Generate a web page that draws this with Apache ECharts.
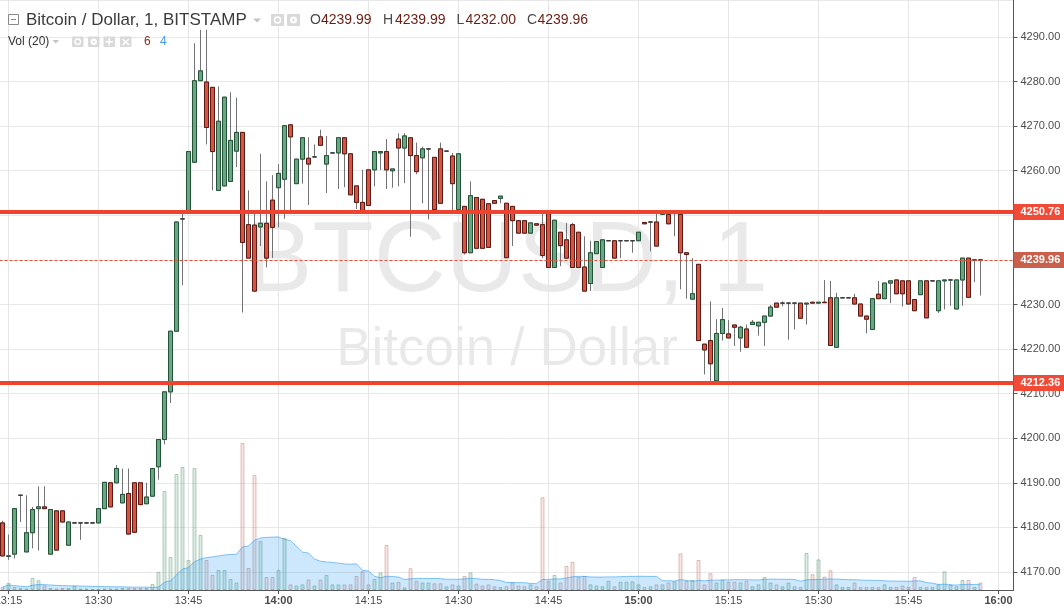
<!DOCTYPE html>
<html><head><meta charset="utf-8">
<script src="https://cdn.jsdelivr.net/npm/echarts@6/dist/echarts.min.js"></script>
<style>html,body{margin:0;padding:0;background:#fff;overflow:hidden}#c{width:1064px;height:609px}</style>
</head><body><div id="c"></div>
<script>
// ---- data (1-minute candles, BTCUSD Bitstamp, from 13:14) ----
const firstMinute = '13:14';
const emptySlotsRight = 5;
const opens = [
 4181.0,4173.5,4174.0,4187.2,4174.5,4178.8,4184.2,4184.6,4174.0,4183.7,
 4183.7,4176.0,4181.0,4181.0,4181.0,4181.0,4181.0,4184.2,4190.0,4190.0,
 4185.5,4187.6,4190.0,4190.0,4185.3,4187.0,4193.6,4199.7,4210.4,4224.0,
 4249.2,4251.0,4261.9,4280.2,4279.9,4278.7,4255.6,4256.6,4257.6,4264.4,
 4268.6,4247.9,4247.8,4247.4,4248.2,4253.4,4256.2,4258.1,4270.3,4257.1,
 4262.6,4262.8,4263.1,4267.6,4261.5,4264.0,4264.0,4267.4,4263.8,4256.6,
 4252.9,4260.2,4260.2,4264.0,4264.3,4260.0,4267.1,4265.1,4267.4,4263.4,
 4262.9,4264.9,4263.0,4264.9,4264.4,4263.3,4251.3,4252.0,4241.6,4254.0,
 4253.6,4252.6,4253.3,4253.8,4252.7,4252.0,4248.8,4248.8,4246.0,4248.1,
 4247.9,4250.4,4238.3,4246.2,4244.5,4247.9,4246.2,4238.4,4234.7,4241.4,
 4238.3,4244.3,4244.3,4244.3,4244.3,4244.3,4244.3,4248.4,4248.5,4248.5,
 4250.2,4250.2,4250.4,4250.2,4241.6,4231.2,4239.0,4221.1,4221.9,4212.9,
 4223.5,4223.4,4225.4,4222.5,4224.5,4225.5,4225.2,4226.0,4227.4,4230.3,
 4230.3,4230.3,4230.3,4230.3,4230.1,4230.5,4230.3,4230.5,4231.5,4220.4,
 4231.5,4231.5,4231.5,4230.1,4227.4,4224.4,4232.3,4231.3,4234.8,4235.5,
 4235.3,4235.3,4231.1,4232.2,4235.3,4235.3,4228.6,4235.3,4235.5,4229.0,
 4235.5,4240.4,4240.0,4239.99
];
const highs = [
 4181.5,4178.4,4184.2,4187.2,4187.2,4184.6,4189.2,4189.2,4184.0,4183.7,
 4183.7,4181.2,4181.0,4181.0,4181.0,4181.0,4184.2,4190.1,4190.0,4194.0,
 4193.2,4193.2,4190.0,4190.0,4190.0,4193.2,4199.7,4210.4,4224.0,4248.5,
 4251.0,4264.3,4288.6,4291.6,4291.6,4278.7,4278.9,4276.5,4277.6,4276.4,
 4268.6,4255.6,4250.6,4263.8,4257.6,4259.0,4261.5,4270.3,4270.3,4262.6,
 4267.4,4267.5,4265.9,4269.2,4267.8,4264.0,4267.4,4267.4,4263.8,4256.6,
 4260.2,4260.2,4264.3,4264.3,4267.1,4260.4,4268.4,4268.4,4267.4,4266.3,
 4265.4,4264.9,4263.0,4266.3,4264.4,4264.0,4263.8,4252.0,4257.6,4254.0,
 4253.6,4252.6,4253.3,4254.3,4252.7,4252.0,4248.8,4248.8,4248.3,4248.1,
 4250.6,4250.4,4248.9,4246.2,4248.3,4248.3,4246.2,4245.3,4244.3,4244.1,
 4244.5,4244.3,4244.3,4244.3,4244.3,4244.3,4246.2,4248.4,4248.5,4250.4,
 4250.4,4250.2,4250.4,4250.2,4241.6,4240.4,4239.0,4221.1,4230.7,4226.7,
 4229.2,4226.5,4225.4,4225.2,4225.5,4226.5,4226.0,4227.4,4229.9,4230.3,
 4230.7,4230.3,4230.3,4230.3,4230.3,4230.5,4230.5,4235.5,4235.3,4232.6,
 4231.5,4231.5,4232.4,4230.1,4227.4,4231.3,4235.3,4234.8,4235.3,4235.5,
 4235.3,4235.3,4231.1,4235.3,4235.3,4235.3,4235.3,4235.5,4235.5,4235.5,
 4240.4,4240.4,4240.0,4239.99
];
const lows = [
 4173.6,4172.7,4173.0,4181.2,4174.5,4175.3,4174.8,4184.2,4174.0,4174.9,
 4181.2,4176.0,4181.0,4177.2,4181.0,4181.0,4181.0,4184.2,4184.6,4190.0,
 4185.5,4178.5,4178.9,4185.1,4185.3,4187.0,4190.7,4198.6,4207.9,4224.0,
 4234.3,4251.0,4261.9,4280.2,4265.9,4255.6,4255.6,4256.6,4257.6,4260.8,
 4228.2,4240.4,4233.0,4243.1,4238.3,4240.4,4247.3,4249.2,4250.6,4257.1,
 4257.1,4252.3,4263.1,4265.7,4255.0,4264.0,4255.9,4256.3,4254.6,4251.4,
 4250.6,4252.2,4256.5,4260.2,4255.9,4256.2,4256.5,4257.2,4245.2,4259.2,
 4252.7,4249.1,4251.3,4252.7,4264.4,4251.2,4251.3,4241.2,4241.6,4242.6,
 4242.6,4242.8,4252.7,4252.7,4240.5,4243.1,4246.0,4246.0,4246.0,4247.8,
 4240.4,4238.3,4238.3,4238.6,4240.4,4238.3,4238.3,4233.0,4233.0,4241.4,
 4238.3,4244.3,4240.4,4240.4,4244.3,4241.6,4244.3,4248.1,4241.9,4243.1,
 4250.2,4248.1,4245.3,4233.4,4231.3,4231.2,4221.9,4214.3,4212.3,4212.9,
 4221.9,4222.5,4220.7,4219.4,4220.4,4225.5,4223.0,4220.7,4227.4,4229.4,
 4229.6,4222.1,4224.4,4226.9,4225.5,4230.3,4230.3,4230.5,4220.8,4220.4,
 4231.5,4231.5,4230.1,4227.4,4223.5,4224.4,4231.3,4231.3,4230.3,4232.4,
 4229.5,4230.1,4228.6,4232.2,4227.0,4235.3,4228.1,4228.9,4229.7,4229.0,
 4229.7,4231.6,4235.0,4232.00
];
const closes = [
 4173.6,4173.6,4184.2,4187.2,4178.8,4184.0,4184.6,4184.2,4184.0,4174.9,
 4181.2,4181.2,4181.0,4181.0,4181.0,4181.0,4184.2,4190.1,4184.6,4193.2,
 4187.4,4178.5,4178.9,4185.1,4186.8,4193.2,4199.7,4210.4,4224.0,4248.5,
 4249.2,4264.3,4280.2,4282.4,4269.7,4264.3,4271.1,4276.5,4266.8,4268.6,
 4243.9,4240.4,4233.0,4248.2,4240.4,4247.3,4259.4,4270.1,4267.6,4262.6,
 4267.4,4261.5,4263.1,4265.7,4263.4,4264.0,4267.4,4263.8,4254.6,4252.9,
 4250.6,4252.2,4264.3,4264.3,4260.2,4260.4,4265.1,4267.8,4263.4,4259.8,
 4264.9,4264.9,4251.3,4252.7,4264.4,4257.1,4263.8,4241.6,4254.4,4242.6,
 4242.6,4242.8,4252.7,4254.3,4240.5,4248.8,4246.0,4246.0,4248.3,4247.8,
 4241.0,4238.3,4248.9,4243.2,4240.4,4238.3,4238.3,4233.0,4241.6,4244.1,
 4244.5,4244.3,4240.4,4244.3,4244.3,4244.3,4246.2,4248.1,4248.5,4243.1,
 4250.4,4248.1,4250.4,4241.6,4241.2,4232.4,4221.9,4219.8,4216.7,4223.5,
 4226.6,4222.5,4224.9,4224.9,4220.4,4226.0,4226.0,4227.4,4229.4,4229.4,
 4230.3,4230.3,4230.3,4226.9,4230.3,4230.3,4230.5,4230.4,4220.8,4231.5,
 4231.5,4231.5,4230.1,4227.4,4226.7,4231.3,4231.3,4234.8,4235.3,4232.4,
 4232.4,4230.1,4228.6,4235.3,4227.0,4235.3,4235.3,4235.5,4235.5,4235.5,
 4240.4,4231.6,4240.0,4239.96
];
const volumes = [
 3,7,3,2,1.5,12,9.7,4.7,2,1.5,
 2,2,4,1.5,1.5,1,1,1.5,1.5,1.5,
 2,2,2,2,2,6,18,99,33,116,
 123,30,122,55,30,15,20,20,11,7.5,
 147,22,115,49,13,13,20,52,5.6,4.5,
 5.6,10.5,4.5,10.5,15,5.6,5.6,5.6,5.6,14,
 18.7,5.6,11,17.6,45,7.5,8,2.6,21.7,9.3,
 7.5,7.5,6.7,6.7,3.7,5.6,4.5,14,17.6,6.4,
 4.5,5.6,3.7,3,3.7,7.5,4.5,3.7,5.6,3.7,
 92.7,9.3,15,7.5,24,28,13,14,5.6,4.5,
 3.7,9.3,3.7,8.2,8.2,8.6,5.6,3,3.7,5.6,
 5.6,7.5,8.6,36.6,9.3,10,30,5.6,16.8,7.5,
 10,8.2,8.2,7.5,9.3,3.7,5.6,13,7.5,5.6,
 3.7,7.5,3.7,3,37,15.7,30.6,13.5,19.8,5.6,
 3,3,7.5,3,3,3,3,5.6,3,3,
 4.5,3,13,3,3,3,5.6,18.7,5.6,3.7,
 10,10,3,7.5
];
const levels = [4250.76, 4212.36];
const volMaLength = 20;
const volumeAxisMax = 590;

// ---- derived ----
const FONT = '"Liberation Sans", Arial, sans-serif';
const n = opens.length;
const last = n - 1;
const [h0, m0] = firstMinute.split(':').map(Number);
const categories = [];
for (let k = 0; k < n + emptySlotsRight; k++) {
  const t = h0 * 60 + m0 + k;
  categories.push(String(Math.floor(t / 60)).padStart(2, '0') + ':' + String(t % 60).padStart(2, '0'));
}
const isGridTime = v => /:(00|15|30|45)$/.test(v);
const wickData = opens.map((o, k) => [o, closes[k], lows[k], highs[k]]);
const bodyData = opens.map((o, k) => [o, closes[k], Math.min(o, closes[k]), Math.max(o, closes[k])]);
const volUp = { color: 'rgba(107,165,131,0.22)', borderColor: 'rgba(107,165,131,0.5)' };
const volDn = { color: 'rgba(205,120,110,0.18)', borderColor: 'rgba(190,120,115,0.45)' };
const volData = volumes.map((v, k) => ({ value: v, itemStyle: closes[k] >= opens[k] ? volUp : volDn }));
const volMA = volumes.map((v, k) => {
  const s = volumes.slice(Math.max(0, k - volMaLength + 1), k + 1);
  return s.reduce((a, b) => a + b, 0) / s.length;
});

const priceLabel = bg => ({
  show: true, position: 'end', distance: 0,
  formatter: p => Number(p.value).toFixed(2),
  color: '#fff', fontWeight: 'bold', fontSize: 11, fontFamily: FONT,
  backgroundColor: bg, padding: [3, 8, 2, 7]
});

const chart = echarts.init(document.getElementById('c'), null, { renderer: 'canvas' });

const hdr = [];
const txt = (x, y, text, fill, size, extra) => hdr.push(Object.assign({
  type: 'text', x, y, z: 100,
  style: { text, fill, font: size + 'px ' + FONT, verticalAlign: 'middle', align: 'left' }
}, extra || {}));
// title line
hdr.push({ type: 'rect', z: 100, shape: { x: 8.5, y: 14.5, width: 10, height: 10 }, style: { fill: '#fff', stroke: '#8a8a8a', lineWidth: 1 } });
hdr.push({ type: 'line', z: 100, shape: { x1: 11, y1: 19.5, x2: 16, y2: 19.5 }, style: { stroke: '#8a8a8a', lineWidth: 1 } });
txt(26, 20.5, 'Bitcoin / Dollar, 1, BITSTAMP', '#3b3b3b', 17);
hdr.push({ type: 'polygon', z: 100, shape: { points: [[253, 18.5], [261, 18.5], [257, 22.5]] }, style: { fill: '#c4c4c4' } });
[[271, 14, 13, 12], [287, 14, 13, 12]].forEach(r => hdr.push({ type: 'rect', z: 100, shape: { x: r[0], y: r[1], width: r[2], height: r[3], r: 1 }, style: { fill: '#d9d9d9' } }));
hdr.push({ type: 'circle', z: 101, shape: { cx: 277.5, cy: 20, r: 3 }, style: { fill: 'none', stroke: '#fff', lineWidth: 1.5 } });
hdr.push({ type: 'circle', z: 101, shape: { cx: 293.5, cy: 20, r: 3.5 }, style: { fill: '#fff' } });
hdr.push({ type: 'circle', z: 102, shape: { cx: 293.5, cy: 20, r: 1.2 }, style: { fill: '#d9d9d9' } });
const valCol = '#6b1d12', letCol = '#4a4a4a';
txt(310, 20.5, 'O', letCol, 14); txt(321, 20.5, opens[last].toFixed(2), valCol, 14);
txt(383, 20.5, 'H', letCol, 14); txt(395, 20.5, highs[last].toFixed(2), valCol, 14);
txt(456.5, 20.5, 'L', letCol, 14); txt(465.5, 20.5, lows[last].toFixed(2), valCol, 14);
txt(527, 20.5, 'C', letCol, 14); txt(537.5, 20.5, closes[last].toFixed(2), valCol, 14);
// volume line
txt(8, 41.5, 'Vol (20)', '#333', 12);
hdr.push({ type: 'polygon', z: 100, shape: { points: [[52.5, 40], [59, 40], [55.75, 43.5]] }, style: { fill: '#c4c4c4' } });
[[72, 36.5], [88, 36.5], [103.5, 36.5], [120, 36.5]].forEach(r => hdr.push({ type: 'rect', z: 100, shape: { x: r[0], y: r[1], width: 11.5, height: 10.5, r: 1 }, style: { fill: '#d9d9d9' } }));
hdr.push({ type: 'circle', z: 101, shape: { cx: 77.75, cy: 41.75, r: 2.7 }, style: { fill: 'none', stroke: '#fff', lineWidth: 1.4 } });
hdr.push({ type: 'circle', z: 101, shape: { cx: 93.75, cy: 41.75, r: 3.2 }, style: { fill: '#fff' } });
hdr.push({ type: 'circle', z: 102, shape: { cx: 93.75, cy: 41.75, r: 1.1 }, style: { fill: '#d9d9d9' } });
hdr.push({ type: 'line', z: 101, shape: { x1: 105.5, y1: 41.75, x2: 113, y2: 41.75 }, style: { stroke: '#fff', lineWidth: 1.6 } });
hdr.push({ type: 'line', z: 101, shape: { x1: 109.25, y1: 38, x2: 109.25, y2: 45.5 }, style: { stroke: '#fff', lineWidth: 1.6 } });
hdr.push({ type: 'line', z: 101, shape: { x1: 122.5, y1: 39, x2: 129, y2: 45 }, style: { stroke: '#fff', lineWidth: 1.6 } });
hdr.push({ type: 'line', z: 101, shape: { x1: 129, y1: 39, x2: 122.5, y2: 45 }, style: { stroke: '#fff', lineWidth: 1.6 } });
txt(144, 41.5, '6', '#8e2b1b', 12);
txt(160, 41.5, '4', '#3d9be9', 12);
// watermark
const wm = [
  { type: 'text', x: 507, y: 263, z: 0, silent: true, style: { text: 'BTCUSD, 1', fill: 'rgba(0,0,0,0.085)', font: '100px ' + FONT, align: 'center', verticalAlign: 'middle' } },
  { type: 'text', x: 507, y: 350, z: 0, silent: true, style: { text: 'Bitcoin / Dollar', fill: 'rgba(0,0,0,0.085)', font: '53px ' + FONT, align: 'center', verticalAlign: 'middle' } }
];

chart.setOption({
  animation: false,
  backgroundColor: '#ffffff',
  graphic: wm.concat(hdr),
  grid: { left: -0.5, right: 50.5, top: 0, bottom: 19, containLabel: false, outerBoundsMode: 'none' },
  xAxis: {
    type: 'category', data: categories, boundaryGap: true,
    axisLine: { show: true, lineStyle: { color: '#555', width: 1 } },
    axisTick: { show: true, alignWithLabel: true, length: 4, interval: (i, v) => isGridTime(v), lineStyle: { color: '#555' } },
    axisLabel: {
      interval: (i, v) => isGridTime(v), margin: 5, color: '#4a4a4a', fontSize: 11, fontFamily: FONT,
      formatter: v => /:00$/.test(v) ? '{b|' + v + '}' : v,
      rich: { b: { fontWeight: 'bold', color: '#4a4a4a', fontSize: 11, fontFamily: FONT } }
    },
    splitLine: { show: false }
  },
  yAxis: [
    {
      type: 'value', position: 'right', scale: true,
      min: 4165.95, max: 4298.3, splitNumber: 13, minInterval: 10, maxInterval: 10,
      axisLine: { show: true, lineStyle: { color: '#555', width: 1 } },
      axisTick: { show: true, length: 4, lineStyle: { color: '#555' } },
      axisLabel: { showMinLabel: false, showMaxLabel: false, margin: 7, color: '#4d4d4d', fontSize: 11, fontFamily: FONT, formatter: v => v.toFixed(2) },
      splitLine: { show: true, lineStyle: { color: '#e8e8e8', width: 1 } }
    },
    { type: 'value', min: 0, max: volumeAxisMax, show: false }
  ],
  series: [
    {
      name: 'Volume', type: 'bar', yAxisIndex: 1, data: volData, barWidth: 4,
      itemStyle: { borderWidth: 1 }, emphasis: { disabled: true }, silent: true,
      markLine: {
        z: 1, silent: true, symbol: ['none', 'none'], label: { show: false },
        lineStyle: { color: '#e6e6e6', width: 1, type: 'solid' },
        data: categories.filter(isGridTime).map(c => ({ xAxis: c }))
      }
    },
    {
      name: 'Vol MA', type: 'line', yAxisIndex: 1, data: volMA, symbol: 'none', silent: true,
      lineStyle: { color: 'rgba(33,150,243,0.55)', width: 1 },
      areaStyle: { color: 'rgba(33,150,243,0.32)' }
    },
    {
      name: 'Wicks', type: 'candlestick', data: wickData, barWidth: 4, silent: true,
      itemStyle: { color: 'transparent', color0: 'transparent', borderColor: '#737375', borderColor0: '#737375', borderColorDoji: '#737375', borderWidth: 1 },
      emphasis: { disabled: true }
    },
    {
      name: 'BTCUSD', type: 'candlestick', data: bodyData, barWidth: 4, silent: true,
      itemStyle: { color: '#6ba583', color0: '#d75442', borderColor: '#225437', borderColor0: '#5b1a13', borderColorDoji: '#3a3a3a', borderWidth: 1 },
      emphasis: { disabled: true },
      markLine: {
        silent: true, symbol: ['none', 'none'], precision: 2,
        data: levels.map(v => ({
          yAxis: v,
          lineStyle: { color: '#f0432f', width: 4, type: 'solid' },
          label: priceLabel('#f04b37')
        })).concat([{
          yAxis: closes[last],
          lineStyle: { color: '#e0503a', width: 1, type: [3, 2] },
          label: priceLabel('#c9604c')
        }])
      }
    }
  ]
});
</script>
</body></html>
